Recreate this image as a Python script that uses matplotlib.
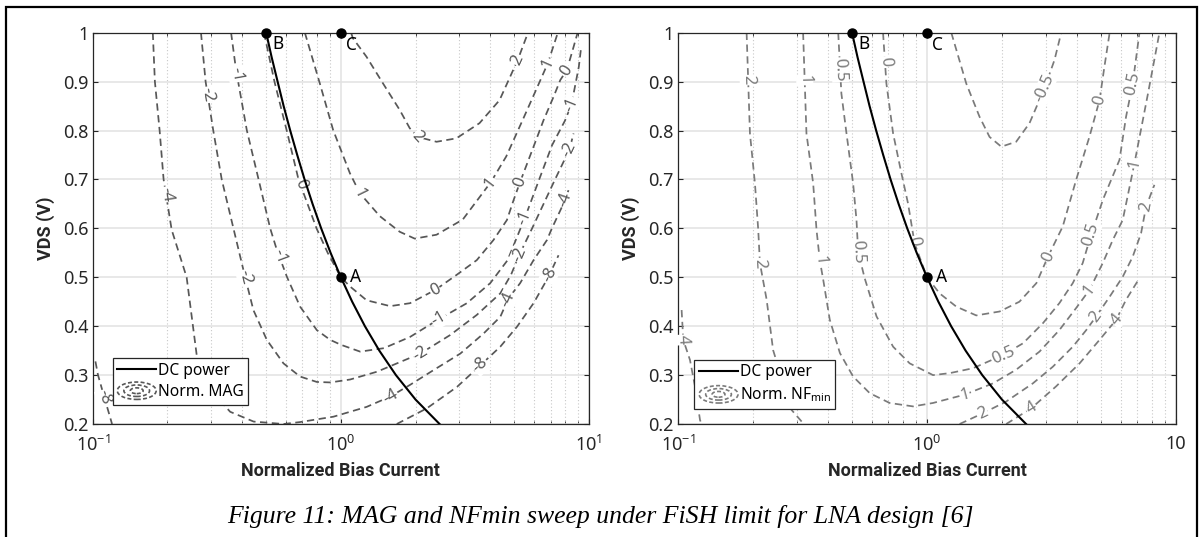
import numpy as np
import matplotlib
matplotlib.use("Agg")
import matplotlib.pyplot as plt
from matplotlib.patches import Ellipse, Rectangle
from matplotlib.lines import Line2D
from matplotlib.legend_handler import HandlerBase
from matplotlib.ticker import LogLocator, NullFormatter

plt.rcParams['font.family'] = ['Noto Sans', 'DejaVu Sans']
plt.rcParams['mathtext.fontset'] = 'custom'
plt.rcParams['mathtext.rm'] = 'Noto Sans'
plt.rcParams['mathtext.it'] = 'Noto Sans:italic'
plt.rcParams['mathtext.bf'] = 'Noto Sans:bold'

# ---------------- data ----------------
# DC power curve (VDS * I = const through A and B)
dc_current = [0.5, 0.526, 0.556, 0.588, 0.625, 0.667, 0.714, 0.769, 0.833, 0.909,
              1.0, 1.111, 1.25, 1.429, 1.667, 2.0, 2.5]
dc_vds = [1.0, 0.95, 0.9, 0.85, 0.8, 0.75, 0.7, 0.65, 0.6, 0.55,
          0.5, 0.45, 0.4, 0.35, 0.3, 0.25, 0.2]

point_names = ['A', 'B', 'C']
point_current = [1.0, 0.5, 1.0]
point_vds = [0.5, 1.0, 1.0]

# Norm. MAG contours (left panel)
mag_levels = ['-8', '-8', '-4', '-2', '-1', '0', '1', '2']
mag_current = [
    [0.1025, 0.105, 0.112, 0.1196],
    [1.68, 2.22, 2.94, 3.65, 4.39, 5.13, 5.98, 6.87, 7.54],
    [0.1746, 0.178, 0.186, 0.193, 0.208, 0.239, 0.263, 0.306, 0.358, 0.445, 0.587,
     0.685, 0.934, 1.27, 1.58, 1.90, 2.36, 3.03, 3.76, 4.39, 4.74, 5.28, 5.98, 6.77,
     7.09, 8.02, 8.27],
    [0.273, 0.285, 0.306, 0.331, 0.369, 0.411, 0.444, 0.503, 0.587, 0.685, 0.800,
     0.906, 1.09, 1.40, 2.09, 2.76, 3.53, 4.39, 4.85, 5.24, 5.9, 7.3, 8.34, 8.67],
    [0.361, 0.378, 0.418, 0.466, 0.519, 0.552, 0.606, 0.685, 0.800, 0.906, 1.0,
     1.196, 1.49, 1.90, 2.44, 3.22, 4.0, 4.7, 5.55, 6.3, 7.1, 8.0, 8.5, 9.1, 9.3],
    [0.49, 0.54, 0.605, 0.675, 0.798, 0.885, 1.0, 1.09, 1.27, 1.58, 1.90, 2.40, 2.93,
     3.53, 4.12, 4.67, 4.97, 5.28, 5.98, 6.56, 7.20, 7.66, 8.15, 8.67, 9.0],
    [0.716, 0.823, 0.931, 1.087, 1.192, 1.435, 1.727, 1.985, 2.43, 3.10, 4.03, 4.64,
     5.41, 6.12, 6.82, 7.48],
    [1.10, 1.117, 1.268, 1.480, 1.727, 1.894, 2.04, 2.43, 2.92, 3.62, 4.36, 5.16, 5.67],
]
mag_vds = [
    [0.328, 0.30, 0.25, 0.2],
    [0.2, 0.232, 0.276, 0.32, 0.358, 0.399, 0.447, 0.501, 0.545],
    [1.0, 0.9, 0.8, 0.7, 0.597, 0.5, 0.337, 0.263, 0.225, 0.205, 0.2,
     0.204, 0.215, 0.235, 0.256, 0.28, 0.31, 0.344, 0.385, 0.419, 0.457, 0.488, 0.535,
     0.576, 0.6, 0.658, 0.678],
    [1.0, 0.9, 0.8, 0.7, 0.6, 0.501, 0.433, 0.372, 0.324, 0.297, 0.286,
     0.285, 0.291, 0.307, 0.344, 0.382, 0.423, 0.467, 0.505, 0.546, 0.6, 0.7, 0.761, 0.794],
    [1.0, 0.924, 0.8, 0.7, 0.6, 0.556, 0.501, 0.44, 0.392, 0.372, 0.362,
     0.348, 0.355, 0.378, 0.412, 0.447, 0.488, 0.535, 0.625, 0.70, 0.77, 0.82, 0.853,
     0.93, 0.97],
    [1.0, 0.9, 0.8, 0.7, 0.6, 0.55, 0.5, 0.481, 0.453, 0.441, 0.447, 0.474, 0.505,
     0.535, 0.576, 0.617, 0.658, 0.695, 0.767, 0.821, 0.869, 0.903, 0.924, 0.971, 1.0],
    [1.0, 0.896, 0.801, 0.713, 0.672, 0.625, 0.593, 0.579, 0.587, 0.618, 0.695, 0.747,
     0.822, 0.883, 0.937, 0.999],
    [1.0, 0.989, 0.951, 0.896, 0.842, 0.805, 0.787, 0.777, 0.784, 0.815, 0.862, 0.944, 0.999],
]
mag_label_spots = [
    [(0.109, 0.253)],
    [(3.68, 0.318), (6.93, 0.505)],
    [(0.196, 0.669), (1.60, 0.253), (4.78, 0.454), (7.96, 0.659)],
    [(0.284, 0.873), (0.405, 0.499), (2.11, 0.342), (5.24, 0.546), (8.34, 0.761)],
    [(0.375, 0.914), (0.551, 0.54), (2.50, 0.413), (5.50, 0.621), (8.47, 0.853)],
    [(0.673, 0.689), (2.39, 0.475), (5.33, 0.693), (8.08, 0.924)],
    [(1.156, 0.669), (4.04, 0.693), (6.82, 0.937)],
    [(2.04, 0.787), (5.16, 0.944)],
]

# Norm. NFmin contours (right panel)
nf_levels = ['-0.5', '0', '0.5', '1', '2', '2', '4', '4']
nf_current = [
    [1.252, 1.438, 1.626, 1.783, 1.988, 2.28, 2.58, 2.96, 3.25, 3.46],
    [0.666, 0.687, 0.731, 0.789, 0.839, 0.892, 1.0, 1.124, 1.311, 1.577, 1.956, 2.35,
     2.75, 3.06, 3.51, 3.97, 4.49, 4.93, 5.16, 5.41],
    [0.440, 0.453, 0.475, 0.505, 0.521, 0.529, 0.562, 0.627, 0.731, 0.852, 0.994, 1.057,
     1.233, 1.529, 2.02, 2.43, 2.92, 3.40, 3.85, 4.22, 4.56, 5.1, 5.93, 6.30, 6.70, 7.13],
    [0.318, 0.328, 0.349, 0.360, 0.371, 0.383, 0.407, 0.447, 0.505, 0.589, 0.708, 0.879,
     1.057, 1.416, 1.839, 2.28, 2.83, 3.40, 3.97, 4.49, 5.08, 5.57, 6.11, 6.81, 7.70, 8.58],
    [0.1886, 0.1945, 0.2037, 0.210, 0.2133, 0.227, 0.241, 0.2856, 0.318],
    [1.352, 1.677, 2.08, 2.66, 3.20, 3.85, 4.36, 4.78, 5.41, 6.11, 6.70, 7.24, 7.58, 8.19],
    [0.1034, 0.105, 0.1117, 0.117, 0.1226, 0.1245],
    [2.08, 2.62, 3.30, 4.10, 4.93, 5.75, 6.30, 7.13],
]
nf_vds = [
    [1.0, 0.896, 0.828, 0.787, 0.767, 0.777, 0.815, 0.886, 0.944, 1.0],
    [1.0, 0.896, 0.794, 0.713, 0.651, 0.569, 0.5, 0.467, 0.440, 0.422, 0.430, 0.450,
     0.488, 0.542, 0.604, 0.699, 0.787, 0.862, 0.931, 0.999],
    [1.0, 0.876, 0.794, 0.692, 0.617, 0.552, 0.498, 0.420, 0.358, 0.324, 0.307, 0.300,
     0.304, 0.314, 0.341, 0.365, 0.406, 0.447, 0.488, 0.529, 0.587, 0.66, 0.740, 0.828,
     0.896, 0.999],
    [1.0, 0.794, 0.692, 0.597, 0.535, 0.495, 0.413, 0.345, 0.297, 0.263, 0.243, 0.236,
     0.243, 0.260, 0.283, 0.311, 0.348, 0.392, 0.437, 0.474, 0.529, 0.576, 0.617, 0.733,
     0.873, 1.0],
    [1.0, 0.794, 0.692, 0.597, 0.529, 0.454, 0.351, 0.229, 0.2016],
    [0.2, 0.222, 0.246, 0.283, 0.317, 0.358, 0.392, 0.420, 0.460, 0.501, 0.542, 0.590,
     0.644, 0.689],
    [0.433, 0.372, 0.331, 0.277, 0.208, 0.2],
    [0.2, 0.232, 0.277, 0.324, 0.372, 0.413, 0.454, 0.498],
]
nf_label_spots = [
    [(2.96, 0.886)],
    [(0.666, 0.941), (0.892, 0.574), (3.06, 0.542), (4.93, 0.862)],
    [(0.44, 0.924), (0.529, 0.552), (2.02, 0.341), (4.56, 0.587), (6.70, 0.896)],
    [(0.318, 0.903), (0.371, 0.535), (1.416, 0.260), (4.49, 0.474), (6.81, 0.733)],
    [(0.1886, 0.903), (0.2133, 0.529)],
    [(1.677, 0.222), (4.78, 0.420), (7.58, 0.644)],
    [(0.105, 0.372)],
    [(2.62, 0.232), (5.75, 0.413)],
]

y_ticks = [0.2, 0.3, 0.4, 0.5, 0.6, 0.7, 0.8, 0.9, 1.0]
y_tick_labels = ['0.2', '0.3', '0.4', '0.5', '0.6', '0.7', '0.8', '0.9', '1']
x_ticks = [0.1, 1, 10]
x_tick_labels_left = ['$10^{-1}$', '$10^{0}$', '$10^{1}$']
x_tick_labels_right = ['$10^{-1}$', '$10^{0}$', '10']

caption = 'Figure 11: MAG and NFmin sweep under FiSH limit for LNA design [6]'


class ContourIcon(HandlerBase):
    # little concentric dashed ellipses, like the MATLAB contour legend icon
    def create_artists(self, legend, orig_handle, xdescent, ydescent,
                       width, height, fontsize, trans):
        cx = -xdescent + width / 2
        cy = -ydescent + height / 2
        arts = []
        for k in (1.0, 0.66, 0.33):
            e = Ellipse((cx, cy), width * k, height * 1.6 * k, fill=False,
                        edgecolor=orig_handle.get_color(), lw=1.2,
                        linestyle=(0, (2.4, 1.4)))
            e.set_transform(trans)
            arts.append(e)
        return arts


def snap_label(ax, xs, ys, x0, y0):
    # nearest point on the polyline (display space) and the local direction
    P = ax.transData.transform(np.column_stack([xs, ys]))
    q = ax.transData.transform((x0, y0))
    best = None
    for i in range(len(P) - 1):
        a, b = P[i], P[i + 1]
        d = b - a
        t = np.clip(np.dot(q - a, d) / max(np.dot(d, d), 1e-9), 0, 1)
        p = a + t * d
        dist = np.hypot(*(q - p))
        if best is None or dist < best[0]:
            best = (dist, p, d)
    _, p, d = best
    ang = np.degrees(np.arctan2(d[1], d[0]))
    if ang > 90:
        ang -= 180
    if ang < -90:
        ang += 180
    return ax.transData.inverted().transform(p), ang


def draw_panel(ax, levels, currents, vdss, spots, color, legend_name, leg_anchor, xt_labels):
    ax.set_xscale('log')
    ax.set_xlim(0.1, 10)
    ax.set_ylim(0.2, 1.0)
    ax.set_yticks(y_ticks)
    ax.set_yticklabels(y_tick_labels)
    ax.set_xticks(x_ticks)
    ax.set_xticklabels(xt_labels)
    ax.xaxis.set_minor_locator(LogLocator(base=10, subs=np.arange(2, 10)))
    ax.xaxis.set_minor_formatter(NullFormatter())
    ax.grid(True, which='major', color='#e2e2e2', lw=1.1)
    ax.grid(True, which='minor', axis='x', color='#c8c8c8', lw=0.8, ls=(0, (1, 2)))
    ax.set_axisbelow(True)
    ax.tick_params(which='both', direction='in', top=True, right=True,
                   colors='#262626', labelsize=13)
    ax.tick_params(which='major', length=3.5, width=0.8)
    ax.tick_params(which='minor', length=2, width=0.6)
    ax.tick_params(axis='x', pad=8)
    ax.tick_params(axis='y', pad=3)
    for s in ax.spines.values():
        s.set_color('#262626')
        s.set_linewidth(0.9)

    # contours
    for lev, xs, ys, sp in zip(levels, currents, vdss, spots):
        ax.plot(xs, ys, color=color, lw=1.25, dashes=(4.2, 2.6), zorder=2)
        for (x0, y0) in sp:
            pos, ang = snap_label(ax, xs, ys, x0, y0)
            ax.text(pos[0], pos[1], lev, rotation=ang, rotation_mode='anchor',
                    ha='center', va='center', color=color, fontsize=12, zorder=3,
                    bbox=dict(fc='white', ec='none', pad=0.4))

    # DC power and points
    dc_line, = ax.plot(dc_current, dc_vds, color='black', lw=1.5, zorder=4)
    ax.plot(point_current, point_vds, 'o', color='black', ms=6.5, clip_on=False, zorder=6)
    offsets = {'A': (6.5, 0), 'B': (4.5, -8), 'C': (3.5, -8.5)}
    for n, x, y in zip(point_names, point_current, point_vds):
        ax.annotate(n, (x, y), xytext=offsets[n], textcoords='offset points',
                    ha='left', va='center', fontsize=12.5, color='black', zorder=7)

    cont_proxy = Line2D([], [], color=color)
    leg = ax.legend([dc_line, cont_proxy], ['DC power', legend_name],
                    handler_map={cont_proxy: ContourIcon()},
                    loc='lower left', bbox_to_anchor=leg_anchor, borderaxespad=0,
                    fancybox=False, edgecolor='#262626', framealpha=1, fontsize=11.2,
                    handlelength=2.5, handletextpad=0.1, borderpad=0.3,
                    labelspacing=0.35)
    leg.get_frame().set_linewidth(0.9)
    leg.set_zorder(8)

    ax.text(0.5, -0.12, 'Normalized Bias Current', transform=ax.transAxes,
            ha='center', va='center', fontsize=13, fontweight='bold',
            family='Roboto', color='#262626')
    ax.text(-0.096, 0.5, 'VDS (V)', transform=ax.transAxes, rotation=90,
            ha='center', va='center', fontsize=13, fontweight='bold',
            family='Roboto', color='#262626')


fig = plt.figure(figsize=(12, 5.37), dpi=100)
ax1 = fig.add_axes([0.0773, 0.2104, 0.4135, 0.7287])
ax2 = fig.add_axes([0.565, 0.2104, 0.415, 0.7287])

draw_panel(ax1, mag_levels, mag_current, mag_vds, mag_label_spots, '#575757',
           'Norm. MAG', (0.040, 0.049), x_tick_labels_left)
draw_panel(ax2, nf_levels, nf_current, nf_vds, nf_label_spots, '#7a7a7a',
           'Norm. NF$_{\\mathrm{min}}$', (0.033, 0.038), x_tick_labels_right)

fig.text(0.5, 1 - 516 / 537, caption, ha='center', va='center',
         family='Liberation Serif', style='italic', fontsize=18.5)

# outer frame around figure + caption
fig.add_artist(Rectangle((6 / 1200, -0.05), 1191 / 1200, 0.9875 + 0.05,
                         transform=fig.transFigure, fill=False, ec='black', lw=1.6))

fig.savefig('out.png', dpi=100)
